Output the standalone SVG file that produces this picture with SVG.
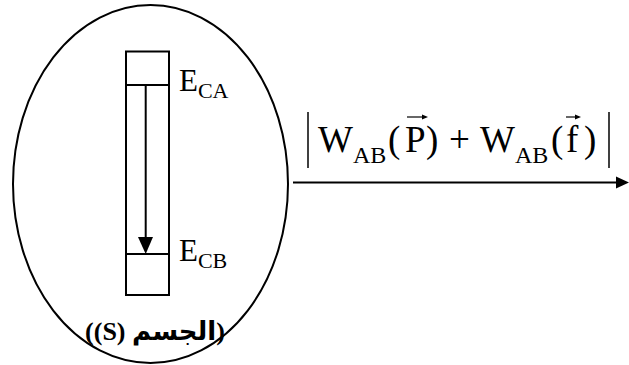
<svg xmlns="http://www.w3.org/2000/svg" width="629" height="365" viewBox="0 0 629 365">
<style>
.s{fill:none;stroke:#000;stroke-width:2}
.t{font-family:"Liberation Serif","Times New Roman",serif;fill:#000}
.big{font-size:37px}
.sub{font-size:24px}
.e{font-size:31px}
.es{font-size:22px}
</style>
<defs>
<marker id="ah" viewBox="0 0 10 10" refX="10" refY="5" markerWidth="6" markerHeight="6" markerUnits="userSpaceOnUse" orient="auto"><path d="M0,0L10,5L0,10z" fill="#000"/></marker>
</defs>
<g id="body">
<ellipse class="s" cx="150.5" cy="184" rx="137.5" ry="179"/>
<text class="t" x="155" y="340" font-size="26" font-weight="bold" text-anchor="middle" direction="rtl" style="font-family:'Liberation Serif','DejaVu Sans',serif">(الجسم (S))</text>
</g>
<g id="bar">
<rect class="s" x="126" y="51.5" width="43" height="243.5"/>
<line class="s" x1="126" y1="85" x2="169" y2="85"/>
<line class="s" x1="126" y1="254" x2="169" y2="254"/>
<line class="s" x1="145.7" y1="85" x2="145.7" y2="238"/>
<path d="M138,237L153,237L145.7,254z" fill="#000"/>
<text class="t e" x="179" y="91">E<tspan class="es" y="98">CA</tspan></text>
<text class="t e" x="179" y="261">E<tspan class="es" y="268">CB</tspan></text>
</g>
<g id="connectors">
<line class="s" x1="293" y1="182.5" x2="618" y2="182.5"/>
<path d="M616,176.5L629,182.5L616,188.5z" fill="#000"/>
</g>
<g id="label">
<line x1="308" y1="112" x2="308" y2="168" stroke="#000" stroke-width="1.5"/>
<line x1="609" y1="112" x2="609" y2="168" stroke="#000" stroke-width="1.5"/>
<text class="t big" x="318" y="152">W</text>
<text class="t sub" x="353" y="163">AB</text>
<text class="t big" x="388" y="152">(</text>
<text class="t big" x="405" y="152">P</text>
<text class="t big" x="426" y="152">)</text>
<text class="t big" x="449" y="152">+</text>
<text class="t big" x="480" y="152">W</text>
<text class="t sub" x="515" y="163">AB</text>
<text class="t big" x="551" y="152">(</text>
<text class="t big" x="566" y="152">f</text>
<text class="t big" x="584" y="152">)</text>
<line x1="407" y1="117" x2="424" y2="117" stroke="#000" stroke-width="1.2"/>
<path d="M422,114.5L428,117L422,119.5z" fill="#000"/>
<line x1="566" y1="117" x2="577" y2="117" stroke="#000" stroke-width="1.2"/>
<path d="M575,114.5L581,117L575,119.5z" fill="#000"/>
</g>
</svg>
